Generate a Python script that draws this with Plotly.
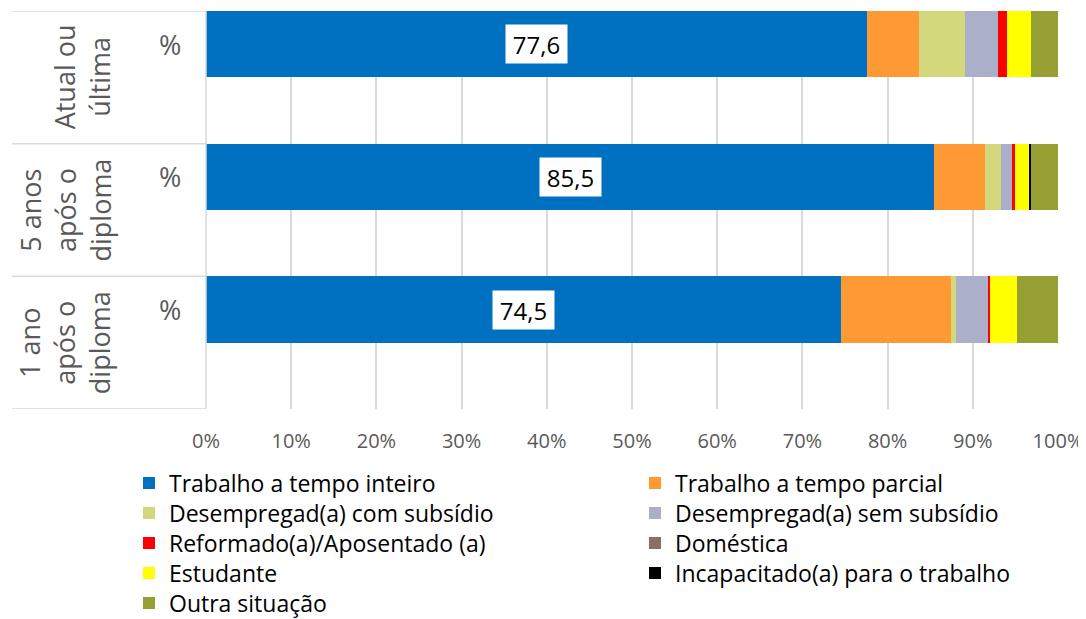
import plotly.graph_objects as go

categories = ["1 ano após o diploma", "5 anos após o diploma", "Atual ou última"]
cat_labels = ["1 ano<br>após o<br>diploma", "5 anos<br>após o<br>diploma", "Atual ou<br>última"]
sub_label = "%"

series_names = [
    "Trabalho a tempo inteiro",
    "Trabalho a tempo parcial",
    "Desempregad(a) com subsídio",
    "Desempregad(a) sem subsídio",
    "Reformado(a)/Aposentado (a)",
    "Doméstica",
    "Estudante",
    "Incapacitado(a) para o trabalho",
    "Outra situação",
]
full_time = [74.5, 85.5, 77.6]
part_time = [12.9, 5.9, 6.1]
unemp_sub = [0.6, 1.9, 5.4]
unemp_nosub = [3.9, 1.4, 3.9]
retired = [0.1, 0.2, 1.0]
domestic = [0.0, 0.0, 0.0]
student = [3.2, 1.7, 2.8]
incapacitated = [0.0, 0.2, 0.0]
other = [4.8, 3.2, 3.2]
series_values = [full_time, part_time, unemp_sub, unemp_nosub, retired,
                 domestic, student, incapacitated, other]
colors = ["#0070C0", "#FF9933", "#D4D87C", "#ABAFCA", "#FF0000",
          "#8C6E62", "#FFFF00", "#000000", "#969F31"]
x_ticks = [0, 10, 20, 30, 40, 50, 60, 70, 80, 90, 100]

FONT = "Open Sans"
GREY = "#595959"
W, H = 1086, 619
OFF = 8  # page body margin in the browser

# each group occupies 2 slots; bar drawn in the upper slot
ypos = [2 * i + 1.5 for i in range(len(categories))]

fig = go.Figure()
legend_layouts = {}
for k, (name, vals, col) in enumerate(zip(series_names, series_values, colors)):
    lname = "legend" if k == 0 else f"legend{k + 1}"
    fig.add_trace(go.Bar(
        y=ypos, x=vals, name=name, orientation="h", width=1.0,
        marker=dict(color=col, line=dict(width=0)),
        legend=lname, hoverinfo="x+name",
    ))
    column, row = k % 2, k // 2
    x_screen = 129 if column == 0 else 635
    y_screen = 483 + 30 * row
    legend_layouts[lname] = dict(
        xref="container", yref="container",
        x=(x_screen - OFF) / W, y=1 - (y_screen - OFF) / H,
        xanchor="left", yanchor="middle", orientation="v",
        font=dict(family=FONT, size=23, color="#000000"),
        itemwidth=30, bgcolor="rgba(0,0,0,0)", borderwidth=0,
    )

# data labels for the full-time series
for y, v in zip(ypos, full_time):
    fig.add_annotation(x=v / 2, y=y, xref="x", yref="y",
                       text=f"{v:.1f}".replace(".", ","), showarrow=False,
                       bgcolor="white", borderpad=3, width=55, height=32,
                       font=dict(family=FONT, size=24, color="#000000"))

# category labels
for y, lab in zip(ypos, cat_labels):
    fig.add_annotation(x=-0.1009, y=y - 0.5, xref="paper", yref="y",
                       xanchor="right", yanchor="middle",
                       text=lab, textangle=-90, showarrow=False,
                       font=dict(family=FONT, size=27, color=GREY))
    fig.add_annotation(x=-0.0575, y=y, xref="paper", yref="y",
                       text=sub_label, showarrow=False,
                       font=dict(family=FONT, size=27, color=GREY))

# separator lines in label area
for yb in [0, 2, 4, 6]:
    fig.add_shape(type="line", xref="paper", yref="y",
                  x0=-0.2277, x1=0, y0=yb, y1=yb,
                  line=dict(color="#D9D9D9", width=1.5))
fig.add_shape(type="line", xref="paper", yref="y", x0=0, x1=0, y0=0, y1=6,
              line=dict(color="#D9D9D9", width=1.5))

fig.update_layout(
    barmode="stack",
    width=W, height=H,
    margin=dict(l=198, r=36, t=3, b=218, autoexpand=False),
    plot_bgcolor="white", paper_bgcolor="white",
    font=dict(family=FONT, color=GREY),
    xaxis=dict(range=[0, 100], tickvals=x_ticks,
               ticktext=[f"{t}%" for t in x_ticks],
               showgrid=True, gridcolor="#D9D9D9", gridwidth=1.5,
               zeroline=False, showline=False, ticks="",
               ticklabelstandoff=18, tickangle=0,
               tickfont=dict(family=FONT, size=20, color=GREY)),
    yaxis=dict(range=[0, 6], showticklabels=False, showgrid=False,
               zeroline=False, showline=False, ticks=""),
    showlegend=True,
    **legend_layouts,
)

fig.write_html("out.html")
